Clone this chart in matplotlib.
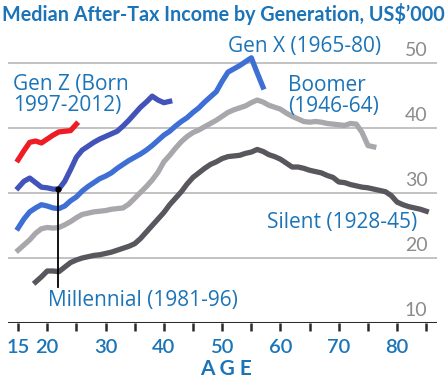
import matplotlib
matplotlib.use("Agg")
import matplotlib.pyplot as plt

# Median after-tax income (US$'000) by age
genz_age = [15, 16, 17, 18, 19, 20, 21, 22, 23, 24, 25]
genz_val = [35.1, 36.5, 37.8, 38.0, 37.7, 38.3, 38.9, 39.4, 39.5, 39.6, 40.6]

mill_age = list(range(15, 42))
mill_val = [30.8, 31.8, 32.3, 31.6, 30.9, 30.8, 30.6, 30.6, 31.8, 33.6,
            35.5, 36.6, 37.2, 37.8, 38.3, 38.7, 39.1, 39.5, 40.3, 41.2,
            42.2, 43.2, 44.0, 44.9, 44.3, 43.9, 44.1]

genx_age = list(range(15, 58))
genx_val = [24.6, 26.0, 27.1, 27.7, 28.2, 28.0, 27.7, 27.6, 28.0, 28.8,
            29.4, 30.3, 31.0, 31.6, 32.2, 32.6, 33.1, 33.8, 34.4, 35.0,
            35.5, 36.0, 36.6, 37.3, 38.1, 38.9, 39.5, 40.3, 41.0, 41.6,
            42.4, 43.1, 44.0, 44.8, 45.6, 47.2, 48.6, 49.1, 49.6, 50.2,
            50.8, 48.5, 46.3]

boom_age = list(range(15, 77))
boom_val = [21.2, 22.0, 22.8, 23.8, 24.5, 24.7, 24.6, 24.7, 25.1, 25.6,
            26.2, 26.7, 26.9, 27.1, 27.2, 27.3, 27.5, 27.6, 27.7, 28.3,
            29.2, 30.1, 31.0, 32.0, 33.2, 34.8, 35.8, 36.9, 37.9, 38.7,
            39.3, 39.7, 40.2, 40.7, 41.2, 41.8, 42.4, 42.8, 43.1, 43.4,
            43.9, 44.3, 44.0, 43.5, 43.2, 42.9, 42.3, 41.8, 41.4, 41.0,
            40.9, 41.0, 40.9, 40.7, 40.6, 40.5, 40.4, 40.7, 40.6, 39.3,
            37.3, 37.1]

silent_age = list(range(18, 86))
silent_val = [16.3, 17.1, 18.0, 18.0, 17.9, 18.6, 19.3, 19.7, 20.0, 20.2,
              20.4, 20.5, 20.7, 20.9, 21.2, 21.5, 21.8, 22.2, 23.0, 24.0,
              25.0, 26.0, 27.0, 28.2, 29.2, 30.2, 31.4, 32.4, 33.1, 33.8,
              34.4, 34.8, 35.3, 35.6, 35.7, 35.8, 36.1, 36.3, 36.7, 36.4,
              35.9, 35.6, 35.2, 34.6, 34.0, 34.0, 33.8, 33.5, 33.3, 33.1,
              32.7, 32.4, 31.7, 31.6, 31.3, 31.1, 30.9, 30.8, 30.6, 30.4,
              30.2, 29.6, 28.6, 28.2, 27.9, 27.7, 27.5, 27.2]

x_major = [15, 20, 30, 40, 50, 60, 70, 80]
x_minor = list(range(15, 90, 5))
y_grid = [20, 30, 40, 50]
y_labels = [10, 20, 30, 40, 50]

marker_age = 21.9
marker_bottom = 15.6

BLUE_TXT = "#1b74b8"
GRID = "#b8b8b8"

plt.rcParams['font.family'] = ['Open Sans', 'DejaVu Sans']

fig = plt.figure(figsize=(4.47, 3.81), dpi=100)
ax = fig.add_axes([0.018, 0.1522, 0.96, 0.708])
ax.set_xlim(13.28, 86.87)
ax.set_ylim(10, 51.5)
ax.axis('off')

for g in y_grid:
    ax.axhline(g, color=GRID, lw=1.2, zorder=1)
ax.axhline(10, color="#2b2b2b", lw=2.2, zorder=2)

for t in x_minor:
    ax.plot([t, t], [10, 8.8], color="#2b2b2b", lw=1.8, clip_on=False,
            solid_capstyle='butt')

for t in x_major:
    ax.text(t, 6.3, str(t), color=BLUE_TXT, fontsize=14.5, fontweight='semibold',
            ha='center', va='center', clip_on=False, family=['Lato', 'DejaVu Sans'])
ax.text(50.6, 2.9, "A G E", color=BLUE_TXT, fontsize=15, fontweight='bold',
        ha='center', va='center', clip_on=False, family=['Lato', 'DejaVu Sans'])

for v in y_labels:
    ax.text(85.2, v + 2.0, str(v), color="#8c8c8c", fontsize=14,
            ha='right', va='center', family=['Lato', 'DejaVu Sans'])

lw = 3.8
ax.plot(silent_age, silent_val, color="#59565d", lw=lw, zorder=3)
ax.plot(boom_age, boom_val, color="#a9a7ac", lw=lw, zorder=3)
ax.plot(genx_age, genx_val, color="#3d6fd5", lw=lw, zorder=4)
ax.plot(mill_age, mill_val, color="#4253b9", lw=lw, zorder=4)
ax.plot(genz_age, genz_val, color="#ee1c25", lw=lw, zorder=4)

ax.plot([marker_age, marker_age], [marker_bottom, 30.6], color="black", lw=1.3, zorder=5)
ax.plot([marker_age], [30.6], 'o', color="black", ms=3.5, zorder=5)

lab = dict(color=BLUE_TXT, fontsize=15, va='center', ha='left', linespacing=0.98)
ax.text(51.0, 52.5, "Gen X (1965-80)", **lab)
ax.text(14.1, 45.1, "Gen Z (Born\n1997-2012)", **lab)
ax.text(61.3, 44.9, "Boomer\n(1946-64)", **lab)
ax.text(57.7, 25.4, "Silent (1928-45)", **lab)
ax.text(20.1, 13.5, "Millennial (1981-96)", **lab)

fig.text(0.5, 0.962, "Median After-Tax Income by Generation, US$\u2019000",
         color=BLUE_TXT, fontsize=14.2, fontweight='bold', ha='center', va='center',
         family=['Lato', 'DejaVu Sans'])

fig.savefig("out.png", dpi=100)
